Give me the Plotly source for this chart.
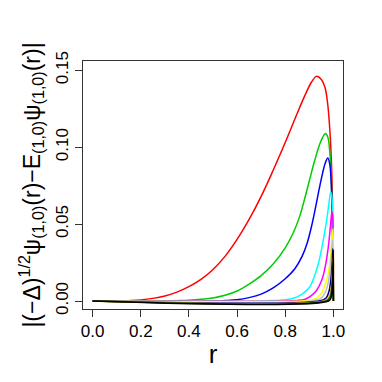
import plotly.graph_objects as go

# 曲线数据
r_red = [0, 0.12, 0.15, 0.20, 0.25, 0.30, 0.35, 0.40, 0.45, 0.50, 0.55, 0.60, 0.65, 0.70, 0.75, 0.80, 0.85, 0.88, 0.91, 0.93, 0.95, 0.965, 0.975, 0.985, 0.992, 0.996, 1.0]
v_red = [0, 0, 0.0002, 0.0007, 0.0017, 0.0033, 0.0058, 0.0093, 0.014, 0.0205, 0.029, 0.040, 0.053, 0.068, 0.085, 0.103, 0.122, 0.133, 0.1425, 0.146, 0.144, 0.139, 0.130, 0.112, 0.090, 0.065, 0]

r_green = [0, 0.30, 0.35, 0.40, 0.45, 0.50, 0.55, 0.60, 0.65, 0.70, 0.75, 0.80, 0.834, 0.86, 0.88, 0.90, 0.92, 0.94, 0.955, 0.967, 0.977, 0.985, 0.991, 0.996, 1.0]
v_green = [0, 0, 0.0002, 0.0005, 0.0011, 0.002, 0.0037, 0.0065, 0.011, 0.0165, 0.024, 0.0345, 0.0445, 0.055, 0.066, 0.078, 0.090, 0.1005, 0.1062, 0.1088, 0.1065, 0.097, 0.080, 0.050, 0]

r_blue = [0, 0.50, 0.55, 0.60, 0.65, 0.70, 0.75, 0.80, 0.84, 0.87, 0.89, 0.91, 0.925, 0.94, 0.955, 0.967, 0.977, 0.985, 0.991, 0.996, 1.0]
v_blue = [0, 0, 0.0003, 0.0008, 0.0022, 0.0045, 0.0085, 0.0145, 0.021, 0.029, 0.037, 0.049, 0.060, 0.072, 0.083, 0.090, 0.093, 0.089, 0.077, 0.050, 0]

r_cyan = [0, 0.70, 0.75, 0.80, 0.834, 0.87, 0.90, 0.92, 0.938, 0.955, 0.972, 0.982, 0.989, 0.994, 0.998, 1.0]
v_cyan = [0, 0, 0.0003, 0.0009, 0.0018, 0.0045, 0.0088, 0.0155, 0.0245, 0.037, 0.0526, 0.064, 0.071, 0.067, 0.045, 0]

r_magenta = [0, 0.80, 0.85, 0.88, 0.903, 0.93, 0.952, 0.967, 0.979, 0.988, 0.994, 0.997, 1.0]
v_magenta = [0, 0, 0.0004, 0.001, 0.0028, 0.0068, 0.0136, 0.023, 0.0352, 0.049, 0.058, 0.055, 0]

r_yellow = [0, 0.87, 0.90, 0.92, 0.945, 0.962, 0.979, 0.99, 0.996, 0.999, 1.0]
v_yellow = [0, 0, 0.0005, 0.0012, 0.0039, 0.009, 0.018, 0.032, 0.043, 0.047, 0]

r_gray = [0, 0.91, 0.95, 0.97, 0.983, 0.992, 0.997, 1.0]
v_gray = [0, 0, 0.002, 0.007, 0.016, 0.030, 0.040, 0]

r_navy = [0, 0.94, 0.97, 0.983, 0.992, 0.996, 0.998, 1.0]
v_navy = [0, 0, 0.002, 0.007, 0.018, 0.028, 0.034, 0]

r_orange = [0, 0.96, 0.98, 0.99, 0.995, 0.998, 0.999, 1.0]
v_orange = [0, 0, 0.002, 0.007, 0.015, 0.024, 0.028, 0]

r_dgreen = [0, 0.97, 0.985, 0.993, 0.997, 0.999, 1.0]
v_dgreen = [0, 0, 0.002, 0.008, 0.017, 0.025, 0]

r_black = [0, 0.98, 0.99, 0.995, 0.998, 0.9995, 1.0]
v_black = [0, 0, 0.002, 0.008, 0.020, 0.033, 0]

curves = [
    (r_red, v_red, "#FF0000"),
    (r_green, v_green, "#00CD00"),
    (r_blue, v_blue, "#0000FF"),
    (r_cyan, v_cyan, "#00FFFF"),
    (r_magenta, v_magenta, "#FF00FF"),
    (r_yellow, v_yellow, "#FFFF00"),
    (r_gray, v_gray, "#BEBEBE"),
    (r_navy, v_navy, "#000080"),
    (r_orange, v_orange, "#FFA500"),
    (r_dgreen, v_dgreen, "#006400"),
    (r_black, v_black, "#000000"),
]

fig = go.Figure()
for r, v, c in curves:
    fig.add_trace(go.Scatter(
        x=r, y=v, mode="lines",
        line=dict(color=c, width=1.5, shape="spline", smoothing=1.0),
        showlegend=False, hoverinfo="skip",
    ))

# 页面 body 默认有 8px 边距，这里整体缩小 8px 来抵消
font_family = "Liberation Sans, Arial, sans-serif"
fig.update_layout(
    width=374, height=374,
    margin=dict(l=75, r=39, t=53, b=73),
    paper_bgcolor="white", plot_bgcolor="white",
    font=dict(family=font_family, color="black"),
)
fig.update_xaxes(
    range=[-0.04, 1.04], tickvals=[0, 0.2, 0.4, 0.6, 0.8, 1.0],
    ticktext=["0.0", "0.2", "0.4", "0.6", "0.8", "1.0"],
    ticks="outside", ticklen=7, tickcolor="#333", tickfont=dict(size=17),
    showline=True, mirror=True, linecolor="#333", linewidth=1,
    showgrid=False, zeroline=False, automargin=False,
    title=dict(text="r", font=dict(size=26), standoff=4),
)
fig.update_yaxes(
    range=[-0.0052, 0.156], tickvals=[0, 0.05, 0.10, 0.15],
    ticktext=["0.00", "0.05", "0.10", "0.15"], tickangle=-90,
    ticks="outside", ticklen=7, tickcolor="#333", tickfont=dict(size=17),
    showline=True, mirror=True, linecolor="#333", linewidth=1,
    showgrid=False, zeroline=False, automargin=False,
    title=dict(
        text="|(−Δ)<sup>1/2</sup>ψ<sub>(1,0)</sub>(r)−E<sub>(1,0)</sub>ψ<sub>(1,0)</sub>(r)|",
        font=dict(size=23), standoff=6,
    ),
)

fig.write_html("out.html")
